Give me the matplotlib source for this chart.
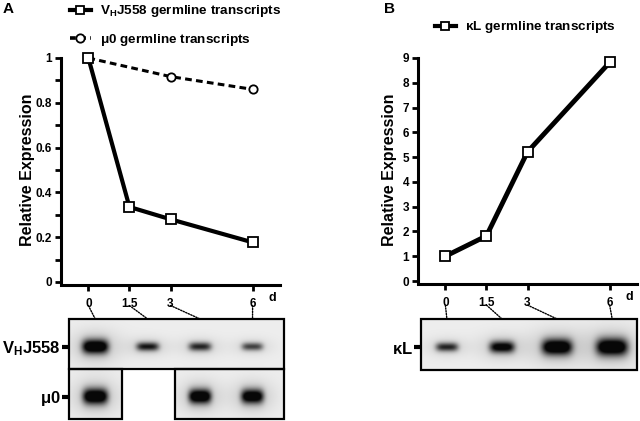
import numpy as np
import matplotlib
matplotlib.use("Agg")
import matplotlib.pyplot as plt
from matplotlib.patches import Rectangle, ConnectionPatch
from matplotlib.lines import Line2D
from matplotlib.ticker import MultipleLocator

plt.rcParams.update({
    "font.family": "Liberation Sans",
    "font.weight": "bold",
    "axes.labelweight": "bold",
    "mathtext.fontset": "custom",
    "mathtext.rm": "Liberation Sans:bold",
    "mathtext.bf": "Liberation Sans:bold",
    "mathtext.it": "Liberation Sans:bold",
})

# ---- data ----
DAYS = [0, 1.5, 3, 6]
DAY_LABELS = ["0", "1.5", "3", "6"]
VH_EXPR = [1.0, 0.335, 0.28, 0.177]
MU0_DAYS = [0, 3, 6]
MU0_EXPR = [1.0, 0.917, 0.86]
KL_EXPR = [1.0, 1.82, 5.21, 8.82]

A_YTICKS = [0, 0.2, 0.4, 0.6, 0.8, 1]
A_YLABELS = ["0", "0.2", "0.4", "0.6", "0.8", "1"]
B_YTICKS = list(range(10))
B_YLABELS = [str(v) for v in B_YTICKS]

# gel band strength per lane (None = lane not shown)
VH_BANDS = [1.0, 0.7, 0.65, 0.55]
MU0_BANDS = [1.0, None, 1.0, 0.95]
KL_BANDS = [0.65, 0.85, 1.0, 1.0]

# band half-sizes (lane units, row units) -- styling only
VH_SIZE = [(0.21, 0.10), (0.18, 0.06), (0.18, 0.06), (0.17, 0.055)]
MU0_SIZE = [(0.20, 0.11), None, (0.18, 0.10), (0.18, 0.10)]
KL_SIZE = [(0.17, 0.06), (0.19, 0.08), (0.23, 0.11), (0.24, 0.12)]

W, H = 640, 421


def px(x0, y0, x1, y1):
    return [x0 / W, 1 - y1 / H, (x1 - x0) / W, (y1 - y0) / H]


def style_axes(ax, yticks, ylabels, label_x):
    for s in ("top", "right"):
        ax.spines[s].set_visible(False)
    for s in ("left", "bottom"):
        ax.spines[s].set_linewidth(2.2)
    ax.spines["bottom"].set_position(("outward", 2))
    ax.tick_params(which="both", width=2.0, length=4.5, pad=2)
    ax.set_xlim(-1, 7)
    ax.set_xticks(DAYS, DAY_LABELS, fontsize=8.5, fontweight="bold")
    ax.set_yticks(yticks, ylabels, fontsize=8.5, fontweight="bold")
    ax.tick_params(axis="x", pad=5)
    ax.set_ylabel("Relative Expression", fontsize=11.5)
    ax.yaxis.set_label_coords(label_x, 0.5)
    ax.text(6.72, -0.072, "d", transform=ax.get_xaxis_transform(),
            fontsize=9, ha="center", va="center")


def gel_image(rows, sizes, x_lo, x_hi, mask=None):
    n_rows = len(rows)
    xs = np.linspace(x_lo, x_hi, 500)
    ys = np.linspace(0, n_rows, 120 * n_rows)
    X, Y = np.meshgrid(xs, ys)
    dark = np.full(X.shape, 0.07)
    for r, (row, sz) in enumerate(zip(rows, sizes)):
        for lane, (amp, s) in enumerate(zip(row, sz)):
            if amp is None:
                continue
            sx, sy = s
            dx, dy = X - lane, Y - r - 0.55
            core = np.exp(-0.5 * (dx / sx) ** 4 - 0.5 * (dy / sy) ** 2)
            halo = np.exp(-0.5 * (dx / (1.5 * sx)) ** 2 - 0.5 * (dy / (2.2 * sy)) ** 2)
            dark = dark + amp * (1.1 * core + 0.18 * halo)
    dark = np.clip(dark, 0, 1)
    g = 1 - 0.97 * dark
    if mask is not None:
        g = np.where(mask(X, Y), g, 1.0)
    return np.dstack([g, g, g])


def style_gel(ax, labels, xlim, n_rows):
    ax.set_xlim(*xlim)
    ax.set_ylim(n_rows, 0)
    ax.set_xticks([])
    ax.set_yticks([r + 0.55 for r in range(n_rows)], labels, fontsize=12, fontweight="bold")
    ax.tick_params(axis="y", length=5, width=3, pad=1)
    for s in ax.spines.values():
        s.set_visible(False)


fig = plt.figure(figsize=(W / 100, H / 100), dpi=100)

# ---------------- panel A ----------------
axA = fig.add_axes(px(61, 58, 280, 282))
axA.plot(MU0_DAYS, MU0_EXPR, color="black", lw=2.2, ls=(0, (2.2, 1.4)), marker="o",
         ms=6, mfc="white", mec="black", mew=1.3, clip_on=False, zorder=3)
axA.plot(DAYS, VH_EXPR, color="black", lw=3, marker="s", ms=6.5,
         mfc="white", mec="black", mew=1.3, clip_on=False, zorder=4)
axA.set_ylim(0, 1)
axA.yaxis.set_minor_locator(MultipleLocator(0.1))
style_axes(axA, A_YTICKS, A_YLABELS, -0.117)

hA = [Line2D([], [], color="black", lw=3, marker="s", ms=6, mfc="white", mew=1.3),
      Line2D([], [], color="black", lw=2.6, ls=(0, (1.6, 1.2)), marker="o", ms=6,
             mfc="white", mew=1.3)]
fig.legend(hA, [r"$\mathbf{V_{H}J558}$ germline transcripts", r"$\mu$0 germline transcripts"],
           loc="upper left", bbox_to_anchor=(69 / W, 1 - 2 / H), frameon=False,
           fontsize=9.7, handlelength=1.5, handletextpad=0.7, labelspacing=0.95,
           borderpad=0.1, borderaxespad=0)

fig.text(3 / W, 1 - 2 / H, "A", fontsize=11, va="top", ha="left")

gA = fig.add_axes(px(69, 319, 284, 419))
xlimA = (-0.5, 3.6)
left_hi, right_lo = 0.52, 1.53
img = gel_image([VH_BANDS, MU0_BANDS], [VH_SIZE, MU0_SIZE], *xlimA,
                mask=lambda X, Y: (Y < 1) | (X < left_hi) | (X > right_lo))
gA.imshow(img, extent=(xlimA[0], xlimA[1], 2, 0), aspect="auto", interpolation="bilinear")
style_gel(gA, [r"$\mathbf{V_{H}J558}$", r"$\mu$0"], xlimA, 2)
for (x0, y0, w, h) in [(xlimA[0], 0, xlimA[1] - xlimA[0], 1),
                       (xlimA[0], 1, left_hi - xlimA[0], 1),
                       (right_lo, 1, xlimA[1] - right_lo, 1)]:
    gA.add_patch(Rectangle((x0, y0), w, h, fill=False, ec="black", lw=1.6, clip_on=False))

for lane, d in enumerate(DAYS):
    con = ConnectionPatch(xyA=(d, -0.105), coordsA=axA.get_xaxis_transform(),
                          xyB=(lane, 0), coordsB="data", axesB=gA,
                          ls=(0, (1, 1)), lw=1, color="black")
    fig.add_artist(con)

# ---------------- panel B ----------------
axB = fig.add_axes(px(418, 58, 637, 281))
axB.plot(DAYS, KL_EXPR, color="black", lw=3.5, marker="s", ms=6.5,
         mfc="white", mec="black", mew=1.3, clip_on=False, zorder=3)
axB.set_ylim(0, 9)
style_axes(axB, B_YTICKS, B_YLABELS, -0.096)

hB = [Line2D([], [], color="black", lw=3, marker="s", ms=6, mfc="white", mew=1.3)]
fig.legend(hB, [r"$\kappa$L germline transcripts"], loc="upper left",
           bbox_to_anchor=(434 / W, 1 - 18 / H), frameon=False, fontsize=9.7,
           handlelength=1.5, handletextpad=0.7, borderpad=0.1, borderaxespad=0)

fig.text(384 / W, 1 - 2 / H, "B", fontsize=11, va="top", ha="left")

gB = fig.add_axes(px(421, 319, 637, 370))
xlimB = (-0.47, 3.45)
img = gel_image([KL_BANDS], [KL_SIZE], *xlimB)
gB.imshow(img, extent=(xlimB[0], xlimB[1], 1, 0), aspect="auto", interpolation="bilinear")
style_gel(gB, [r"$\kappa$L"], xlimB, 1)
gB.add_patch(Rectangle((xlimB[0], 0), xlimB[1] - xlimB[0], 1, fill=False, ec="black",
                       lw=1.6, clip_on=False))

for lane, d in enumerate(DAYS):
    con = ConnectionPatch(xyA=(d, -0.108), coordsA=axB.get_xaxis_transform(),
                          xyB=(lane, 0), coordsB="data", axesB=gB,
                          ls=(0, (1, 1)), lw=1, color="black")
    fig.add_artist(con)

fig.savefig("out.png", dpi=100)
